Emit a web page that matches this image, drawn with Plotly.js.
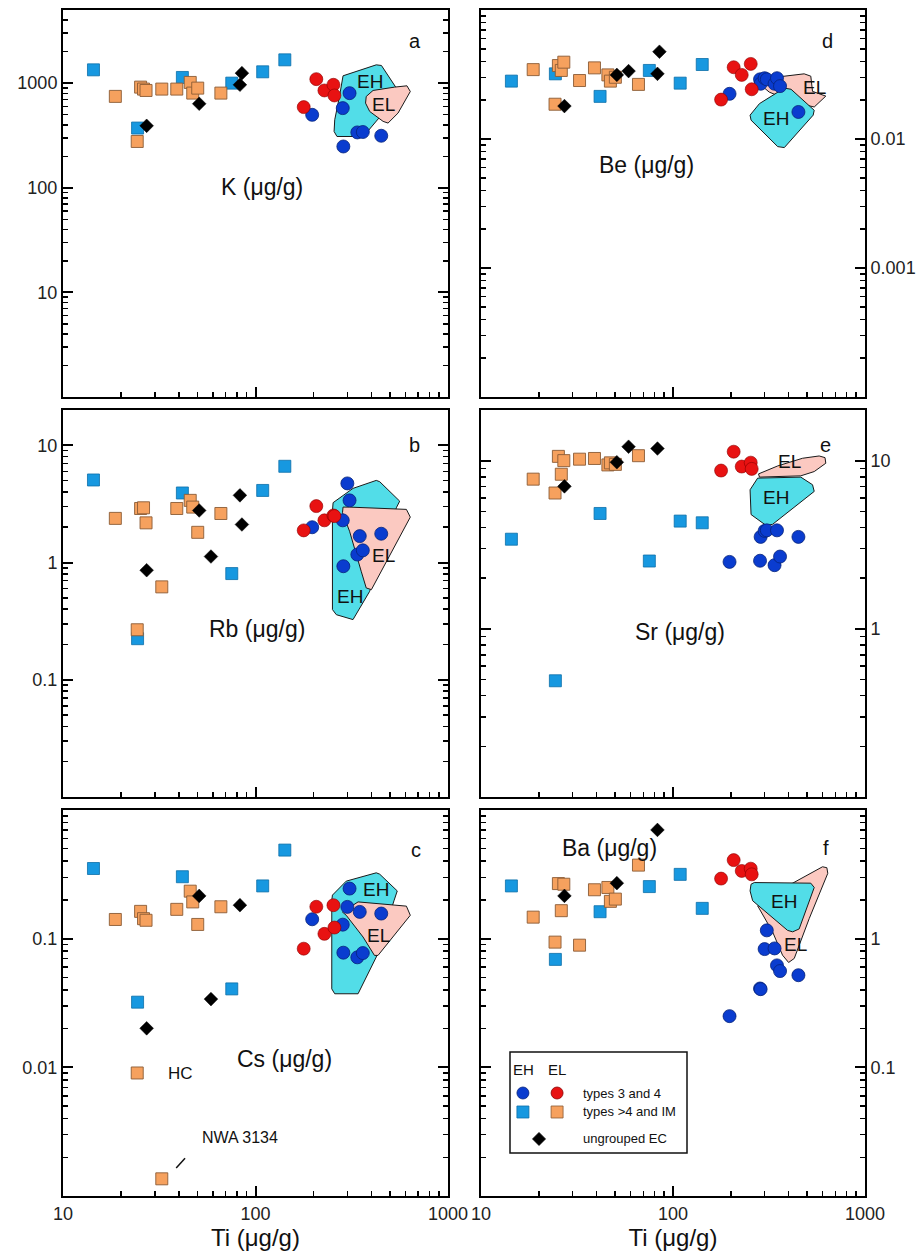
<!DOCTYPE html>
<html><head><meta charset="utf-8">
<script src="https://cdn.plot.ly/plotly-3.0.1.min.js"></script>
<style>html,body{margin:0;padding:0;background:#fff}#g{width:921px;height:1254px}</style>
</head><body><div id="g"></div>
<script>
// ---------------- DATA ----------------
// Ti (µg/g) of each sample group
const TI_EH34 = [197, 284, 286, 300, 308, 338, 348, 361, 450];   // EH types 3 and 4
const TI_EL34 = [178, 207, 228, 254, 257];                       // EL types 3 and 4
const TI_EH4  = [14.4, 24.4, 41.7, 75.3, 109, 142];              // EH types >4 and IM
const TI_EL4  = [18.7, 24.3, 25.3, 26.2, 27.0, 32.6, 39.0, 45.8, 47.2, 50.1, 66.1]; // EL types >4 and IM
const TI_UNG  = [27.2, 51, 58.7, 83, 85];                        // ungrouped EC

// K
const K_EH34 = [498, 577, 248, null, 802, 338, null, 341, 314];
const K_EL34 = [590, 1092, 851, 964, 762];
const K_EH4  = [1340, 372, 1133, 1000, 1283, 1670];
const K_EL4  = [747, 277, 916, 877, 851, 877, 877, 1015, 803, 896, 803];
const K_UNG  = [391, 635, null, 964, 1246];
// Rb
const RB_EH34 = [2.00, 2.29, 0.93, 4.73, 3.39, 1.17, 1.68, 1.27, 1.76];
const RB_EL34 = [1.88, 3.03, 2.29, 2.52, 2.49];
const RB_EH4  = [5.06, 0.224, 3.92, 0.805, 4.12, 6.62];
const RB_EL4  = [2.38, 0.267, 2.89, 2.93, 2.18, 0.62, 2.89, 3.39, 2.97, 1.81, 2.62];
const RB_UNG  = [0.86, 2.78, 1.125, 3.74, 2.11];
// Cs
const CS_EH34 = [0.1415, 0.1285, 0.0778, 0.1766, 0.245, 0.0716, 0.1615, 0.0773, 0.1567];
const CS_EL34 = [0.0836, 0.177, 0.109, 0.182, 0.122];
const CS_EH4  = [0.351, 0.0321, 0.303, 0.0407, 0.257, 0.488];
const CS_EL4  = [0.141, 0.00904, 0.163, 0.143, 0.139, 0.00136, 0.169, 0.234, 0.193, 0.129, 0.177];
const CS_UNG  = [0.0201, 0.215, 0.0339, 0.182, null];
// Be
const BE_EH34 = [0.0224, 0.0290, 0.0268, 0.0296, 0.0290, 0.0268, 0.0296, 0.0257, 0.0162];
const BE_EL34 = [0.0202, 0.036, 0.0314, 0.0382, 0.0243];
const BE_EH4  = [0.0281, 0.032, 0.0214, 0.034, 0.0271, 0.0378];
const BE_EL4  = [0.0345, 0.0186, 0.0371, 0.0340, 0.0394, 0.0284, 0.0356, 0.0314, 0.0281, 0.0301, 0.0265];
const BE_UNG  = [0.018, 0.0314, 0.0336, 0.032, 0.0475];
// Sr
const SR_EH34 = [2.50, 2.54, 3.52, 3.82, 3.85, 2.39, 3.85, 2.69, 3.52];
const SR_EL34 = [8.73, 11.3, 9.22, 9.73, 8.93];
const SR_EH4  = [3.41, 0.491, 4.85, 2.53, 4.37, 4.27];
const SR_EL4  = [7.76, 6.42, 10.6, 8.30, 10.0, 10.2, 10.3, 9.43, 9.7, 9.5, 10.7];
const SR_UNG  = [7.03, 9.78, 12.1, 11.8, null];
// Ba
const BA_EH34 = [0.25, 0.41, 0.405, 0.83, 1.16, 0.84, 0.62, 0.56, 0.52];
const BA_EL34 = [2.93, 4.08, 3.36, 3.50, 3.16];
const BA_EH4  = [2.57, 0.69, 1.62, 2.54, 3.16, 1.72];
const BA_EL4  = [1.47, 0.94, 2.68, 1.65, 2.65, 0.89, 2.40, 2.50, 1.95, 2.03, 3.73];
const BA_UNG  = [2.15, 2.70, null, 7.0, null];

// EH / EL compositional fields (outline vertices: Ti, element)
const EH_K_TI  = [285, 424, 451, 535, 460, 376, 328, 265, 256, 258, 273];
const EH_K_Y   = [1175, 1496, 1475, 916, 517, 333, 309, 309, 345, 447, 746];
const EL_K_TI  = [376, 408, 528, 612, 637, 550, 488, 460, 392, 373];
const EL_K_Y   = [746, 851, 916, 943, 832, 517, 415, 431, 536, 644];
const EH_RB_TI = [253, 321, 424, 442, 561, 539, 392, 321, 263, 251, 251];
const EH_RB_Y  = [3.24, 4.29, 5.02, 4.89, 3.34, 2.93, 0.569, 0.326, 0.359, 0.397, 2.75];
const EL_RB_TI = [285, 308, 608, 637, 400, 376, 354, 308, 283];
const EL_RB_Y  = [2.97, 2.97, 2.84, 2.44, 0.587, 0.607, 0.843, 1.85, 2.66];
const EH_CS_TI = [251, 296, 424, 442, 545, 524, 424, 341, 258, 249, 249];
const EH_CS_Y  = [0.218, 0.280, 0.325, 0.317, 0.235, 0.197, 0.072, 0.0373, 0.0373, 0.0407, 0.199];
const EL_CS_TI = [283, 341, 608, 637, 433, 415, 362, 296];
const EL_CS_Y  = [0.161, 0.193, 0.179, 0.152, 0.0741, 0.0741, 0.103, 0.152];
const EH_BE_TI = [252, 282, 380, 412, 544, 537, 380, 351, 255];
const EH_BE_Y  = [0.0153, 0.0188, 0.0248, 0.0243, 0.0167, 0.0153, 0.00858, 0.00873, 0.0140];
const EL_BE_TI = [282, 311, 482, 522, 533, 625, 544, 420, 317];
const EL_BE_Y  = [0.0268, 0.0296, 0.0320, 0.0307, 0.0234, 0.0215, 0.0177, 0.0194, 0.0231];
const EH_SR_TI = [252, 276, 463, 533, 544, 330, 305, 255];
const EH_SR_Y  = [6.71, 7.87, 7.98, 7.19, 6.56, 4.18, 4.12, 4.78];
const EL_SR_TI = [279, 282, 463, 544, 625, 619, 577, 473, 351];
const EL_SR_Y  = [8.34, 7.98, 8.12, 8.61, 9.65, 10.42, 10.66, 10.33, 9.30];
const EH_BA_TI = [255, 265, 522, 544, 454, 420, 395, 260, 252];
const EH_BA_Y  = [2.65, 2.73, 2.70, 2.50, 1.19, 1.13, 1.16, 1.97, 2.35];
const EL_BA_TI = [420, 601, 633, 640, 512, 428, 400, 372, 330, 276];
const EL_BA_Y  = [2.70, 3.62, 3.56, 3.22, 1.43, 0.702, 0.653, 0.744, 1.13, 1.80];

// Tick labels
const X_TICKS = [10, 100, 1000];
const X_TICK_TEXT = ['10', '100', '1000'];
const ELEMENT_LABELS = ['K (μg/g)', 'Rb (μg/g)', 'Cs (μg/g)', 'Be (μg/g)', 'Sr (μg/g)', 'Ba (μg/g)'];
const PANEL_LETTERS = ['a', 'b', 'c', 'd', 'e', 'f'];
const LEGEND_LABELS = ['types 3 and 4', 'types >4 and IM', 'ungrouped EC'];

// ---------------- STYLE / LAYOUT ----------------
const FONT = 'Liberation Sans, Arial, sans-serif';
const W = 921, H = 1254;
const C = {
  blue: '#0a3ccf', red: '#e81212', lblue: '#1798e0', orange: '#f6a15e',
  eh: '#52dde8', el: '#fbc9c1'
};
const colL = [63, 448], colR = [481, 865];
const rows = [[10, 397], [410, 797], [810, 1196]];
const xd = c => [c[0] / W, c[1] / W];
const yd = r => [1 - r[1] / H, 1 - r[0] / H];

const panels = [
  {n: '', col: colL, row: rows[0], side: 'left', yr: [0, Math.log10(5000)], tv: [10, 100, 1000],
   d: [K_EH34, K_EL34, K_EH4, K_EL4, K_UNG], eh: [EH_K_TI, EH_K_Y], el: [EL_K_TI, EL_K_Y], elTop: true,
   lab: {x: 0.517, y: 0.543}, let: {x: 0.935, y: 0.953}, ehT: [392, 1037], elT: [460, 621]},
  {n: '2', col: colL, row: rows[1], side: 'left', yr: [-2, Math.log10(20)], tv: [0.1, 1, 10],
   d: [RB_EH34, RB_EL34, RB_EH4, RB_EL4, RB_UNG], eh: [EH_RB_TI, EH_RB_Y], el: [EL_RB_TI, EL_RB_Y], elTop: true,
   lab: {x: 0.504, y: 0.434}, let: {x: 0.932, y: 0.943}, ehT: [308, 0.515], elT: [463, 1.155]},
  {n: '3', col: colL, row: rows[2], side: 'left', yr: [-3, 0], tv: [0.01, 0.1],
   d: [CS_EH34, CS_EL34, CS_EH4, CS_EL4, CS_UNG], eh: [EH_CS_TI, EH_CS_Y], el: [EL_CS_TI, EL_CS_Y], elTop: true,
   lab: {x: 0.704, y: 0.355}, let: {x: 0.935, y: 0.93}, ehT: [424, 0.241], elT: [433, 0.106], bottom: true},
  {n: '4', col: colR, row: rows[0], side: 'right', yr: [-4, -1], tv: [0.001, 0.01],
   d: [BE_EH34, BE_EL34, BE_EH4, BE_EL4, BE_UNG], eh: [EH_BE_TI, EH_BE_Y], el: [EL_BE_TI, EL_BE_Y], elTop: false,
   lab: {x: 0.302, y: 0.599}, let: {x: 0.922, y: 0.953}, ehT: [344, 0.0144], elT: [548, 0.0253]},
  {n: '5', col: colR, row: rows[1], side: 'right', yr: [-1, Math.log10(20)], tv: [1, 10],
   d: [SR_EH34, SR_EL34, SR_EH4, SR_EL4, SR_UNG], eh: [EH_SR_TI, EH_SR_Y], el: [EL_SR_TI, EL_SR_Y], elTop: false,
   lab: {x: 0.518, y: 0.426}, let: {x: 0.917, y: 0.943}, ehT: [344, 6.0], elT: [404, 9.86]},
  {n: '6', col: colR, row: rows[2], side: 'right', yr: [-2, 1], tv: [0.1, 1],
   d: [BA_EH34, BA_EL34, BA_EH4, BA_EL4, BA_UNG], eh: [EH_BA_TI, EH_BA_Y], el: [EL_BA_TI, EL_BA_Y], elTop: false,
   lab: {x: 0.206, y: 0.940}, let: {x: 0.911, y: 0.935}, ehT: [380, 1.94], elT: [437, 0.905], bottom: true}
];

const traces = [];
const layout = {
  width: W, height: H, margin: {l: 0, r: 0, t: 0, b: 0},
  paper_bgcolor: '#fff', plot_bgcolor: 'rgba(0,0,0,0)', showlegend: false,
  font: {family: FONT, color: '#111'},
  annotations: [], shapes: []
};

const close = a => a.concat([a[0]]);
function poly(tx, ty, fill, xa, ya) {
  return {type: 'scatter', x: close(tx), y: close(ty), mode: 'lines', fill: 'toself', fillcolor: fill,
    line: {color: '#1a1a1a', width: 1}, xaxis: xa, yaxis: ya, hoverinfo: 'skip'};
}
function pts(tx, ty, sym, col, lc, lw, sz, xa, ya) {
  return {type: 'scatter', x: tx, y: ty, mode: 'markers', xaxis: xa, yaxis: ya,
    marker: {symbol: sym, color: col, size: sz, line: {color: lc, width: lw}}};
}

panels.forEach((p, i) => {
  const xa = 'x' + p.n, ya = 'y' + p.n;
  const ehT = poly(p.eh[0], p.eh[1], C.eh, xa, ya);
  const elT = poly(p.el[0], p.el[1], C.el, xa, ya);
  if (p.elTop) { traces.push(ehT, elT); } else { traces.push(elT, ehT); }
  traces.push(pts(TI_EH4, p.d[2], 'square', C.lblue, '#0d6fa8', 0.8, 12, xa, ya));
  traces.push(pts(TI_EL4, p.d[3], 'square', C.orange, '#8a5b35', 0.9, 12, xa, ya));
  traces.push(pts(TI_UNG, p.d[4], 'diamond', '#000', '#000', 0.5, 10.5, xa, ya));
  traces.push(pts(TI_EH34, p.d[0], 'circle', C.blue, '#06237a', 0.8, 13, xa, ya));
  traces.push(pts(TI_EL34, p.d[1], 'circle', C.red, '#8a0000', 0.6, 13, xa, ya));

  const xk = 'xaxis' + p.n, yk = 'yaxis' + p.n;
  layout[xk] = {
    type: 'log', range: [1, 3], domain: xd(p.col), anchor: ya,
    showline: true, linecolor: '#000', linewidth: 2, mirror: true,
    ticks: 'inside', ticklen: 10, tickwidth: 2, tickcolor: '#000',
    tickmode: 'array', tickvals: X_TICKS, ticktext: X_TICK_TEXT,
    minor: {ticks: 'inside', ticklen: 5, tickwidth: 1.5, tickcolor: '#000', dtick: 'D1', showgrid: false},
    showgrid: false, zeroline: false, showticklabels: !!p.bottom,
    tickfont: {size: 18, color: '#222', family: FONT}, fixedrange: true
  };
  if (p.bottom) layout[xk].title = {text: 'Ti (μg/g)', font: {size: 24, color: '#111', family: FONT}, standoff: 4};
  layout[yk] = {
    type: 'log', range: p.yr, domain: yd(p.row), anchor: xa, side: p.side,
    showline: true, linecolor: '#000', linewidth: 2, mirror: 'allticks',
    ticks: 'inside', ticklen: 10, tickwidth: 2, tickcolor: '#000',
    tickmode: 'array', tickvals: p.tv, ticktext: p.tv.map(String),
    minor: {ticks: 'inside', ticklen: 5, tickwidth: 1.5, tickcolor: '#000', dtick: 'D1', showgrid: false},
    showgrid: false, zeroline: false,
    tickfont: {size: 18, color: '#222', family: FONT}, fixedrange: true
  };
  // element label and panel letter
  layout.annotations.push({xref: xa + ' domain', yref: ya + ' domain', x: p.lab.x, y: p.lab.y,
    text: ELEMENT_LABELS[i], showarrow: false, font: {size: 23, color: '#111', family: FONT}});
  layout.annotations.push({xref: xa + ' domain', yref: ya + ' domain', x: p.let.x, y: p.let.y,
    text: PANEL_LETTERS[i], showarrow: false, font: {size: 20, color: '#111', family: FONT}});
  // field names
  layout.annotations.push({xref: xa, yref: ya, x: Math.log10(p.ehT[0]), y: Math.log10(p.ehT[1]),
    text: 'EH', showarrow: false, font: {size: 19, color: '#111', family: FONT}});
  layout.annotations.push({xref: xa, yref: ya, x: Math.log10(p.elT[0]), y: Math.log10(p.elT[1]),
    text: 'EL', showarrow: false, font: {size: 19, color: '#111', family: FONT}});
});

// HC and NWA 3134 labels in panel c
layout.annotations.push({xref: 'x3 domain', yref: 'y3 domain', x: 0.268, y: 0.288, text: 'HC',
  showarrow: false, font: {size: 17, color: '#111', family: FONT}});
layout.annotations.push({xref: 'x3 domain', yref: 'y3 domain', x: 0.46, y: 0.124, text: 'NWA 3134',
  showarrow: false, font: {size: 16, color: '#111', family: FONT}});
layout.shapes.push({type: 'line', xref: 'x3 domain', yref: 'y3 domain', x0: 0.294, y0: 0.0725, x1: 0.317, y1: 0.098,
  line: {color: '#111', width: 1.5}});

// ---------------- Legend (panel f) ----------------
const LB = {x0: 510 / W, x1: 687 / W, y0: 1 - 1153 / H, y1: 1 - 1052 / H};
layout.xaxis7 = {domain: [LB.x0, LB.x1], range: [0, 1], visible: false, anchor: 'y7', fixedrange: true};
layout.yaxis7 = {domain: [LB.y0, LB.y1], range: [0, 1], visible: false, anchor: 'x7', fixedrange: true};
layout.shapes.push({type: 'rect', xref: 'paper', yref: 'paper', x0: LB.x0, x1: LB.x1, y0: LB.y0, y1: LB.y1,
  line: {color: '#111', width: 1.5}, fillcolor: 'rgba(255,255,255,0)'});
const LG = [
  {x: 0.073, y: 0.594, s: 'circle', c: C.blue, l: '#06237a', z: 12},
  {x: 0.266, y: 0.594, s: 'circle', c: C.red, l: '#8a0000', z: 12},
  {x: 0.073, y: 0.406, s: 'square', c: C.lblue, l: '#0d6fa8', z: 12},
  {x: 0.266, y: 0.406, s: 'square', c: C.orange, l: '#8a5b35', z: 12},
  {x: 0.164, y: 0.139, s: 'diamond', c: '#000', l: '#000', z: 10}
];
LG.forEach(m => traces.push({type: 'scatter', x: [m.x], y: [m.y], xaxis: 'x7', yaxis: 'y7', mode: 'markers',
  marker: {symbol: m.s, color: m.c, size: m.z, line: {color: m.l, width: 0.8}}, hoverinfo: 'skip'}));
[['EH', 0.079], ['EL', 0.266]].forEach(h => layout.annotations.push({xref: 'x7', yref: 'y7', x: h[1], y: 0.822,
  text: h[0], showarrow: false, font: {size: 15, color: '#111', family: FONT}}));
[0.594, 0.406, 0.139].forEach((yy, k) => layout.annotations.push({xref: 'x7', yref: 'y7', x: 0.401, y: yy,
  xanchor: 'left', text: LEGEND_LABELS[k], showarrow: false, font: {size: 13, color: '#111', family: FONT}}));

Plotly.newPlot('g', traces, layout, {staticPlot: true, displayModeBar: false});
</script></body></html>
